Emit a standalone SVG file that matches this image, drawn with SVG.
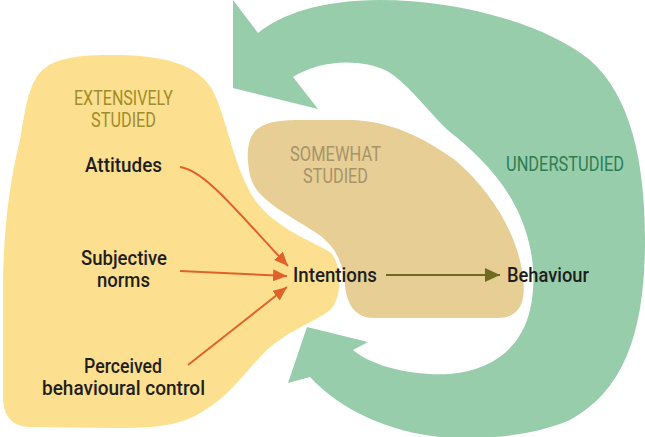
<svg xmlns="http://www.w3.org/2000/svg" width="645" height="437" viewBox="0 0 645 437">
<style>
.lbl{font-family:Roboto,"Liberation Sans",sans-serif;font-size:20px;font-weight:500;fill:#1e1e1e;text-anchor:middle}
.hd{font-family:Roboto,"Liberation Sans",sans-serif;font-size:20px;font-weight:400;text-anchor:middle}
.ext{fill:#a08c2c}
.some{fill:#a8936a}
.under{fill:#2f7d52}
.org{fill:none;stroke:#e0622a;stroke-width:2}
.olv{fill:none;stroke:#6e6b25;stroke-width:2}
</style>
<defs>
<marker id="ah" viewBox="0 0 14 12" refX="14" refY="6" markerWidth="14" markerHeight="12" markerUnits="userSpaceOnUse" orient="auto">
<path d="M0,0 L14,6 L0,12 Z" fill="#e0622a"/>
</marker>
<marker id="ah2" viewBox="0 0 15 14" refX="15" refY="7" markerWidth="15" markerHeight="14" markerUnits="userSpaceOnUse" orient="auto">
<path d="M0,0 L15,7 L0,14 Z" fill="#6e6b25"/>
</marker>
</defs>
<rect width="645" height="437" fill="#ffffff"/>
<g id="extensive-region">
<path d="M35,80 C45,60 70,55 110,55 C160,55 200,62 215,95 C228,125 235,170 255,200 C275,228 310,240 330,252 C342,262 343,298 330,310 C315,322 285,332 265,352 C245,372 230,395 205,410 C185,424 160,428 120,428 L30,427 C10,426 3,415 3,395 L3,290 C3,230 10,180 20,140 C25,110 28,92 35,80 Z" fill="#fde08f"/>
<text class="hd ext" x="123.5" y="105" textLength="99" lengthAdjust="spacingAndGlyphs">EXTENSIVELY</text>
<text class="hd ext" x="123.5" y="127" textLength="65" lengthAdjust="spacingAndGlyphs">STUDIED</text>
</g>
<g id="somewhat-region">
<path d="M250,140 C255,125 270,120 300,120 L353,120 C390,122 420,135 455,160 C490,190 515,230 522,270 C527,300 522,318 497,318 L375,318 C355,318 347,305 345,285 C343,262 335,245 315,232 C290,215 255,200 250,175 C247,160 247,150 250,140 Z" fill="#e6ce94"/>
<text class="hd some" x="335.5" y="161" textLength="91" lengthAdjust="spacingAndGlyphs">SOMEWHAT</text>
<text class="hd some" x="335.5" y="183" textLength="65" lengthAdjust="spacingAndGlyphs">STUDIED</text>
</g>
<g id="understudied-arrow">
<path d="M233,88 L233,0 L258,33 C280,15 320,0 380,0 C450,0 540,20 590,60 C630,95 645,160 645,240 C645,330 625,390 570,420 C530,437 480,440 440,437 C390,432 340,410 310,377 L288,383 L307,327 L368,342 L353,350 C372,366 410,376 450,374 C495,370 522,345 530,310 C538,275 532,235 512,200 C495,170 470,148 450,132 C428,112 410,85 387,71 C360,58 320,60 293,77 L318,109 Z" fill="#97cdab"/>
<text class="hd under" x="565" y="171" textLength="118" lengthAdjust="spacingAndGlyphs">UNDERSTUDIED</text>
</g>
<g id="attitudes"><text class="lbl" x="123.5" y="172" textLength="77" lengthAdjust="spacingAndGlyphs">Attitudes</text></g>
<g id="subjective-norms">
<text class="lbl" x="124" y="265" textLength="86" lengthAdjust="spacingAndGlyphs">Subjective</text>
<text class="lbl" x="123.5" y="287" textLength="53" lengthAdjust="spacingAndGlyphs">norms</text>
</g>
<g id="perceived-control">
<text class="lbl" x="123" y="373" textLength="78" lengthAdjust="spacingAndGlyphs">Perceived</text>
<text class="lbl" x="123.5" y="395" textLength="163" lengthAdjust="spacingAndGlyphs">behavioural control</text>
</g>
<g id="intentions"><text class="lbl" x="335" y="282" textLength="84" lengthAdjust="spacingAndGlyphs">Intentions</text></g>
<g id="behaviour"><text class="lbl" x="548" y="282" textLength="82" lengthAdjust="spacingAndGlyphs">Behaviour</text></g>
<g id="connectors">
<path class="org" d="M180,167 C205,170 240,215 288,266" marker-end="url(#ah)"/>
<path class="org" d="M180,271 L287,276" marker-end="url(#ah)"/>
<path class="org" d="M188,365 L287,287" marker-end="url(#ah)"/>
<path class="olv" d="M386,275 L500,275" marker-end="url(#ah2)"/>
</g>
</svg>
